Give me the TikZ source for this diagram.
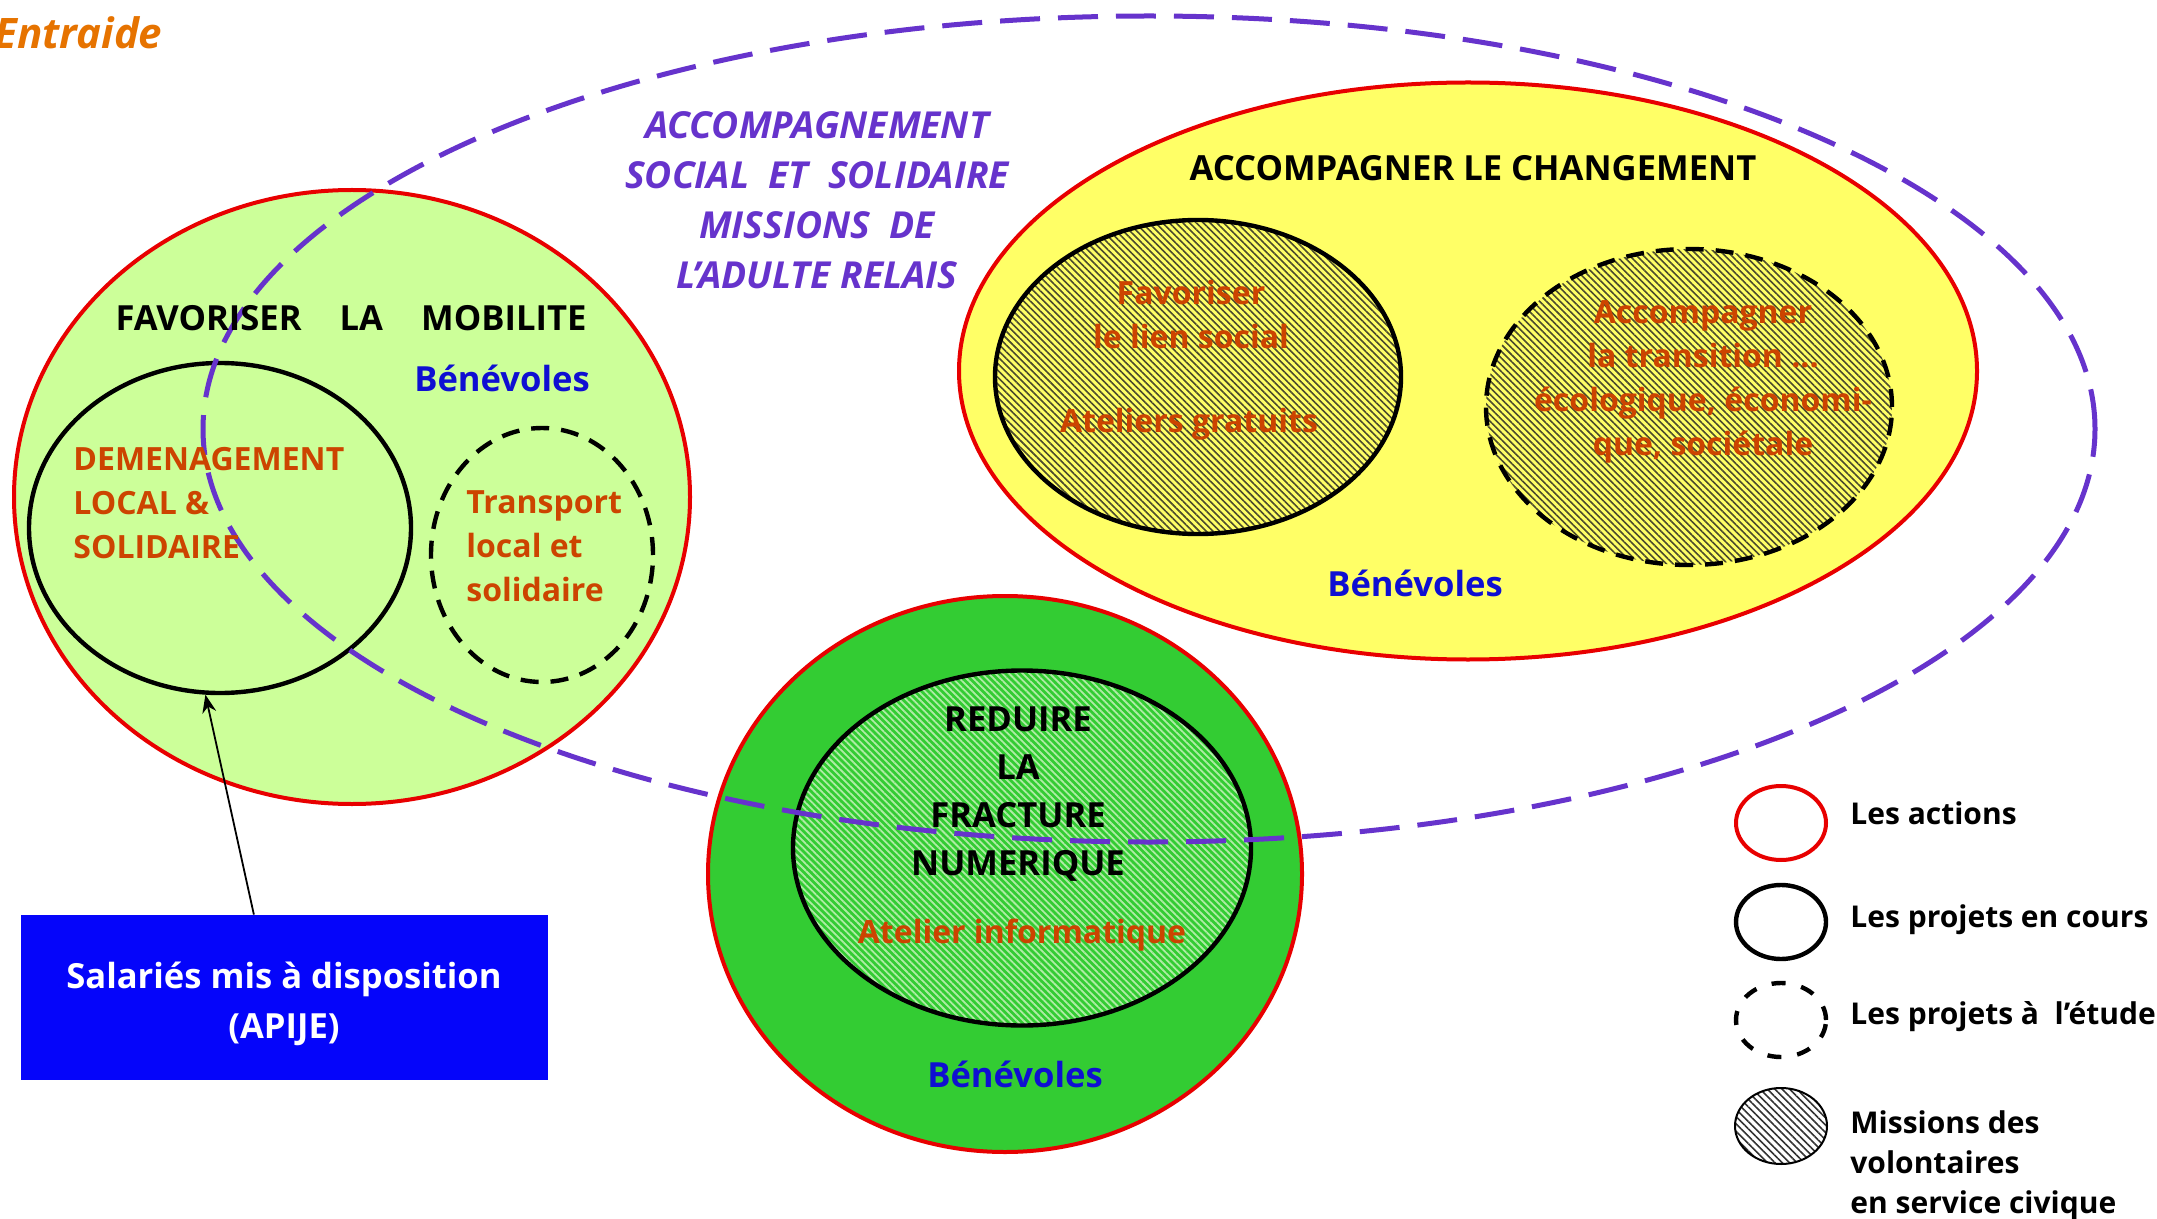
\documentclass[tikz,border=0pt]{standalone}
\usepackage{fontspec}
\setmainfont{Open Sans}
\usetikzlibrary{shapes.geometric,patterns.meta,arrows.meta,calc}
\definecolor{lgreen}{RGB}{204,255,153}
\definecolor{yel}{RGB}{255,255,102}
\definecolor{grn}{RGB}{51,204,51}
\definecolor{redb}{RGB}{232,0,0}
\definecolor{purp}{RGB}{102,51,204}
\definecolor{rtext}{RGB}{204,68,0}
\definecolor{otext}{RGB}{230,115,0}
\definecolor{btext}{RGB}{15,15,210}
\definecolor{brect}{RGB}{5,5,250}
\definecolor{hatchdark}{RGB}{75,75,45}
\definecolor{hatchlight}{RGB}{175,235,165}
\begin{document}
\begin{tikzpicture}[x=0.5pt,y=-0.5pt,
  action/.style={ellipse, draw=redb, line width=2pt, inner sep=0pt},
  projet/.style={ellipse, draw=black, line width=2.2pt, inner sep=0pt},
  etude/.style={projet, dash pattern=on 9pt off 6pt},
  hatchy/.style={preaction={fill=yel}, pattern={Lines[angle=-45,distance=2.4pt,line width=0.8pt]}, pattern color=hatchdark},
  hatchg/.style={preaction={fill=grn}, pattern={Lines[angle=-45,distance=2.4pt,line width=0.9pt]}, pattern color=hatchlight},
  hatchw/.style={preaction={fill=white}, pattern={Lines[angle=-45,distance=2.6pt,line width=0.8pt]}, pattern color=black!80},
  txt/.style={font=\bfseries\fontsize{16}{22}\selectfont, align=center, inner sep=0pt},
  bigtxt/.style={txt, font=\bfseries\fontsize{17.3}{24}\selectfont},
  rtxt/.style={txt, text=rtext},
  btxt/.style={bigtxt, text=btext},
  ktxt/.style={bigtxt, text=black},
  ltxt/.style={font=\bfseries\fontsize{15}{20}\selectfont, align=left, inner sep=0pt, anchor=west},
]
\useasboundingbox (0,0) rectangle (2157,1219);
% action circles
\node[action, fill=lgreen, minimum width=338pt, minimum height=307pt] (mob) at (352,497) {};
\node[projet, minimum width=191pt, minimum height=165pt] (demen) at (220,528) {};
\node[etude, minimum width=111pt, minimum height=127pt] (transp) at (542,555) {};
\node[action, fill=yel, minimum width=509pt, minimum height=288.5pt] (chg) at (1468,371) {};
\node[projet, hatchy, minimum width=203pt, minimum height=157pt] (lien) at (1198,377) {};
\node[etude, hatchy, minimum width=203pt, minimum height=158pt] (transi) at (1689,407) {};
\node[action, fill=grn, minimum width=297pt, minimum height=278pt] (fract) at (1005,874) {};
\node[projet, hatchg, minimum width=229pt, minimum height=177.5pt] (numer) at (1022,848) {};
% dashed purple ellipse
\node[ellipse, draw=purp, line width=2.5pt, dash pattern=on 20pt off 9pt, inner sep=0pt, minimum width=946pt, minimum height=413pt] (asso) at (1149,429) {};
% texts
\node[font=\bfseries\itshape\fontsize{21}{25}\selectfont, text=otext, anchor=west, inner sep=0pt] (titre) at (-6,33) {Entraide};
\node[txt, text=purp, font=\bfseries\itshape\fontsize{18.6}{25}\selectfont] (asstxt) at (817,200) {ACCOMPAGNEMENT\\SOCIAL\ \ ET\ \ SOLIDAIRE\\MISSIONS\ \ DE\\L’ADULTE RELAIS};
\node[ktxt] (chgtxt) at (1473,168) {ACCOMPAGNER LE CHANGEMENT};
\node[rtxt] (lientxt) at (1191,315) {Favoriser\\le lien social};
\node[rtxt] (ateltxt) at (1189,424) {Ateliers gratuits};
\node[rtxt] (transitxt) at (1703,382) {Accompagner\\la transition ...\\écologique, économi-\\que, sociétale};
\node[btxt] (ben1) at (1415,583) {Bénévoles};
\node[ktxt] (mobtxt) at (351,318) {FAVORISER\hspace{1.1em}LA\hspace{1.1em}MOBILITE};
\node[btxt] (ben2) at (502,378) {Bénévoles};
\node[rtxt, align=left, anchor=west] (dementxt) at (73,503) {DEMENAGEMENT\\LOCAL \&\\SOLIDAIRE};
\node[rtxt, align=left, anchor=west] (transptxt) at (466,546) {Transport\\local et\\solidaire};
\node[ktxt, font=\bfseries\fontsize{17.3}{24}\selectfont] (fracttxt) at (1018,794) {REDUIRE\\LA\\FRACTURE\\NUMERIQUE};
\node[rtxt] (infotxt) at (1022,935) {Atelier informatique};
\node[btxt] (ben3) at (1015,1074) {Bénévoles};
% blue box and arrow
\node[fill=brect, minimum width=263.5pt, minimum height=82.5pt, inner sep=0pt] (sal) at (284.5,997.5) {};
\node[bigtxt, text=white, font=\bfseries\fontsize{17.3}{25}\selectfont] (saltxt) at (284,1004) {Salariés mis à disposition\\(APIJE)};
\draw[-{Stealth[length=9pt,width=7pt]}, line width=0.9pt] ($(sal.north west)!0.442!(sal.north east)$) -- (demen.265);
% legend
\node[action, minimum width=45pt, minimum height=37pt] (lg1) at (1781,823) {};
\node[projet, minimum width=45pt, minimum height=37pt] (lg2) at (1781,922) {};
\node[etude, dash pattern=on 7pt off 8pt, minimum width=45pt, minimum height=37pt] (lg3) at (1781,1020) {};
\node[ellipse, draw=black, line width=1pt, hatchw, inner sep=0pt, minimum width=46pt, minimum height=38pt] (lg4) at (1781,1126) {};
\node[ltxt] (lgt1) at (1850,813) {Les actions};
\node[ltxt] (lgt2) at (1850,920) {Les projets en cours};
\node[ltxt] (lgt3) at (1850,1017) {Les projets à\ \ l’étude};
\node[ltxt] (lgt4) at (1850,1166) {Missions des\\volontaires\\en service civique};
\end{tikzpicture}
\end{document}
